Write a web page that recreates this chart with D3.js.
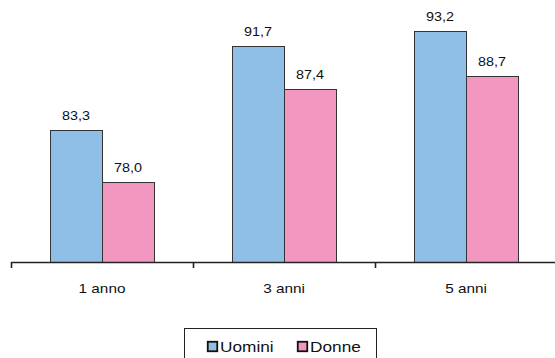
<!DOCTYPE html>
<html>
<head>
<meta charset="utf-8">
<script src="https://cdn.jsdelivr.net/npm/d3@7"></script>
<style>
  html, body { margin: 0; padding: 0; background: #fff; }
  svg { display: block; font-family: "Liberation Sans", Arial, sans-serif; }
</style>
</head>
<body>
<svg id="chart" width="555" height="358"></svg>
<script>
// Categories and series values
const categories = ["1 anno", "3 anni", "5 anni"];
const seriesNames = ["Uomini", "Donne"];
const uomini = [83.3, 91.7, 93.2];
const donne = [78.0, 87.4, 88.7];
const seriesColors = ["#8fbee6", "#f297c0"];

const fmt = v => v.toFixed(1).replace(".", ",");

const svg = d3.select("#chart");
const W = 555, H = 358;
const axisY = 262;
const left = 11, right = 557;

const pad = 0.4286;
const x0 = d3.scaleBand().domain(categories).range([left, right])
  .paddingInner(pad).paddingOuter(pad / 2);
const x1 = d3.scaleBand().domain(seriesNames).range([0, x0.bandwidth()]);
const y = d3.scaleLinear().domain([70, 96]).range([axisY, axisY - 26 * 9.95]);

const rows = categories.map((c, i) => ({
  cat: c,
  vals: [
    { s: seriesNames[0], v: uomini[i], color: seriesColors[0] },
    { s: seriesNames[1], v: donne[i], color: seriesColors[1] }
  ]
}));

const stretch = 1.14;

const groups = svg.selectAll("g.cat").data(rows).join("g")
  .attr("class", "cat")
  .attr("transform", d => `translate(${x0(d.cat)},0)`);

groups.selectAll("rect").data(d => d.vals).join("rect")
  .attr("x", d => x1(d.s) + 0.5)
  .attr("y", d => Math.round(y(d.v)) + 0.5)
  .attr("width", x1.bandwidth())
  .attr("height", d => axisY - Math.round(y(d.v)))
  .attr("fill", d => d.color)
  .attr("stroke", "#333")
  .attr("stroke-width", 1);

groups.selectAll("text.val").data(d => d.vals).join("text")
  .attr("class", "val")
  .attr("transform", d => `translate(${x1(d.s) + x1.bandwidth() / 2},${y(d.v) - 10}) scale(${stretch},1)`)
  .attr("text-anchor", "middle")
  .attr("font-size", 12.6)
  .attr("fill", "#111")
  .text(d => fmt(d.v));

// Category axis
const step = x0.step();
const boundaries = categories.map(c => x0(c) - step * pad / 2).concat([right]);
const axis = svg.append("g");
axis.append("line")
  .attr("x1", left).attr("x2", W)
  .attr("y1", axisY + 0.5).attr("y2", axisY + 0.5)
  .attr("stroke", "#222").attr("stroke-width", 1.6);
axis.selectAll("line.tick").data(boundaries).join("line")
  .attr("class", "tick")
  .attr("x1", d => Math.round(d) + 0.5).attr("x2", d => Math.round(d) + 0.5)
  .attr("y1", axisY).attr("y2", axisY + 6)
  .attr("stroke", "#222").attr("stroke-width", 1.6);
axis.selectAll("text").data(categories).join("text")
  .attr("transform", d => `translate(${x0(d) + x0.bandwidth() / 2},293) scale(${1.18},1)`)
  .attr("text-anchor", "middle")
  .attr("font-size", 13)
  .attr("fill", "#111")
  .text(d => d);

// Legend
const legend = svg.append("g");
legend.append("rect")
  .attr("x", 184.5).attr("y", 328.5)
  .attr("width", 192).attr("height", 40)
  .attr("fill", "#fff").attr("stroke", "#222").attr("stroke-width", 1);
const legendX = [207, 297];
const items = legend.selectAll("g.item").data(seriesNames).join("g")
  .attr("class", "item")
  .attr("transform", (d, i) => `translate(${legendX[i]},341)`);
items.append("rect")
  .attr("x", 0.75).attr("y", 0.75)
  .attr("width", 9.5).attr("height", 9.5)
  .attr("fill", (d, i) => seriesColors[i])
  .attr("stroke", "#111").attr("stroke-width", 1.8);
items.append("text")
  .attr("transform", `translate(13,11) scale(1.12,1)`)
  .attr("font-size", 15.4)
  .attr("fill", "#111")
  .text(d => d);
</script>
</body>
</html>
